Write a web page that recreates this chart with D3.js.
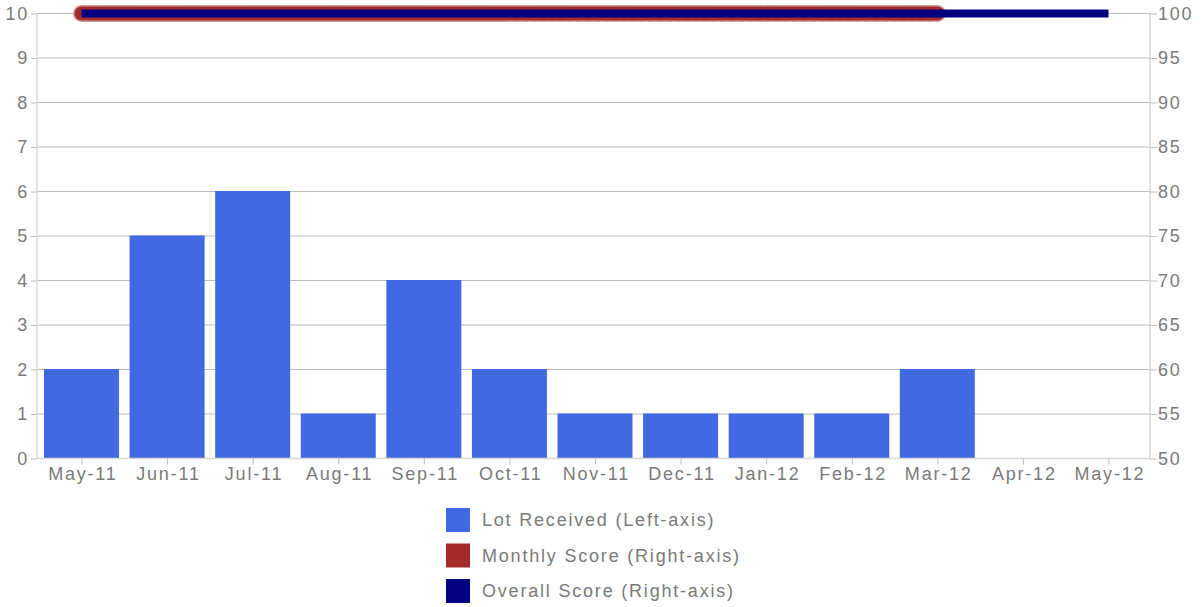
<!DOCTYPE html>
<html>
<head>
<meta charset="utf-8">
<script src="https://cdn.jsdelivr.net/npm/d3@7"></script>
<style>
  body { margin: 0; background: #fff; }
  svg text { font-family: "Liberation Sans", Arial, sans-serif; fill: #7a7a7a; letter-spacing: 1.8px; }
</style>
</head>
<body>
<div id="chart"></div>
<script>
const months = ["May-11","Jun-11","Jul-11","Aug-11","Sep-11","Oct-11","Nov-11","Dec-11","Jan-12","Feb-12","Mar-12","Apr-12","May-12"];
const lotReceived = [2,5,6,1,4,2,1,1,1,1,2,null,null];
const monthlyScore = [100,100,100,100,100,100,100,100,100,100,100,null,null];
const overallScore = [100,100,100,100,100,100,100,100,100,100,100,100,100];
const leftTicks = d3.range(0, 11);
const rightTicks = d3.range(50, 101, 5);
const legendItems = [
  {label: "Lot Received (Left-axis)", color: "#4169e1"},
  {label: "Monthly Score (Right-axis)", color: "#a52a2a"},
  {label: "Overall Score (Right-axis)", color: "#000080"}
];

const width = 1203, height = 607;
const plotL = 37, plotR = 1150, plotT = 13, plotB = 458;

const svg = d3.select("#chart").append("svg")
  .attr("width", width).attr("height", height);

const x = d3.scalePoint().domain(months).range([81.5, 1108.5]);
const yL = d3.scaleLinear().domain([0, 10]).range([plotB, plotT]);
const yR = d3.scaleLinear().domain([50, 100]).range([plotB, plotT]);

// gridlines
svg.append("g").selectAll("line").data(leftTicks).join("line")
  .attr("x1", plotL).attr("x2", plotR)
  .attr("y1", d => yL(d) + 0.5).attr("y2", d => yL(d) + 0.5)
  .attr("stroke", "#bdbdbd").attr("stroke-width", 1);

// bars
const barW = 75;
svg.append("g").selectAll("rect")
  .data(months.map((m, i) => ({m, v: lotReceived[i]})).filter(d => d.v != null))
  .join("rect")
  .attr("x", d => x(d.m) - barW / 2)
  .attr("y", d => yL(d.v))
  .attr("width", barW)
  .attr("height", d => yL(0) - yL(d.v))
  .attr("fill", "#4169e1");

// axes
const axL = svg.append("g").attr("transform", `translate(${plotL},0.5)`)
  .call(d3.axisLeft(yL).tickValues(leftTicks).tickSize(6).tickPadding(2));
const axR = svg.append("g").attr("transform", `translate(${plotR},0.5)`)
  .call(d3.axisRight(yR).tickValues(rightTicks).tickSize(7).tickPadding(1));
const axB = svg.append("g").attr("transform", `translate(0,${plotB + 0.5})`)
  .call(d3.axisBottom(x).tickSize(6).tickPadding(3));
[axL, axR, axB].forEach(a => {
  a.selectAll(".domain").attr("stroke", "#d8d8d8").attr("stroke-width", 1.5);
  a.selectAll(".tick line").attr("stroke", "#bdbdbd");
  a.selectAll("text").attr("font-size", 18).attr("fill", "#7a7a7a")
    .style("font-family", "'Liberation Sans', Arial, sans-serif");
});
axL.select(".domain").attr("d", `M0,${plotT}V${plotB}`);
axR.select(".domain").attr("d", `M0,${plotT}V${plotB}`);
axB.select(".domain").attr("d", `M${plotL},0H${plotR}`);
axB.selectAll(".tick text").attr("dx", "0.9px");

// lines
const scoreLine = d3.line()
  .defined(d => d.v != null)
  .x(d => x(d.m)).y(d => yR(d.v) + 0.5);
const monthlyData = months.map((m, i) => ({m, v: monthlyScore[i]}));
svg.append("path")
  .datum(monthlyData)
  .attr("d", scoreLine)
  .attr("fill", "none").attr("stroke", "#d69a9a")
  .attr("stroke-width", 17).attr("stroke-linecap", "round")
  .attr("stroke-dasharray", "5,4");
svg.append("path")
  .datum(monthlyData)
  .attr("d", scoreLine)
  .attr("fill", "none").attr("stroke", "#a52a2a")
  .attr("stroke-width", 14).attr("stroke-linecap", "round");
svg.append("path")
  .datum(months.map((m, i) => ({m, v: overallScore[i]})))
  .attr("d", scoreLine)
  .attr("fill", "none").attr("stroke", "#000080")
  .attr("stroke-width", 8);

// legend
const lg = svg.append("g").selectAll("g").data(legendItems).join("g")
  .attr("transform", (d, i) => `translate(446,${508 + i * 35.5})`);
lg.append("rect").attr("width", 24).attr("height", 24).attr("fill", d => d.color);
lg.append("text").attr("x", 36).attr("y", 18).attr("font-size", 18)
  .text(d => d.label);
</script>
</body>
</html>
